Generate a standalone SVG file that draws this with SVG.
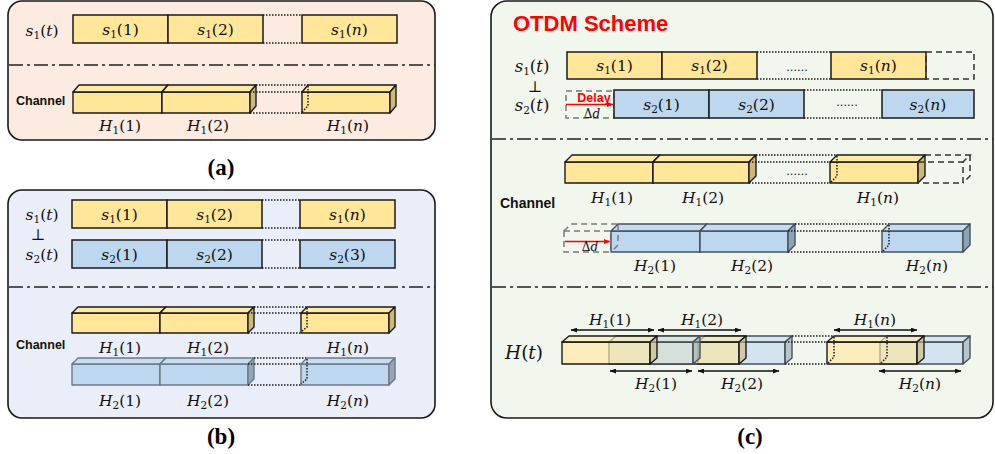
<svg xmlns="http://www.w3.org/2000/svg" width="995" height="454" viewBox="0 0 995 454">
<defs>
  <marker id="ah" viewBox="0 0 8 6" refX="7.5" refY="3" markerWidth="7" markerHeight="5" markerUnits="userSpaceOnUse" orient="auto-start-reverse">
    <path d="M0,0 L8,3 L0,6 z" fill="#111"/>
  </marker>
  <marker id="ahr" viewBox="0 0 8 6" refX="7.5" refY="3" markerWidth="7" markerHeight="5" markerUnits="userSpaceOnUse" orient="auto">
    <path d="M0,0 L8,3 L0,6 z" fill="#FF0000"/>
  </marker>
</defs>
<style>
  .panel { stroke: #1a1a1a; stroke-width: 1.6; }
  .dd { fill: none; stroke: #222; stroke-width: 1.6; stroke-dasharray: 14 4 3 4; }
  .ys { fill: #FFE699; stroke: #1a1a1a; stroke-width: 1.5; }
  .bs { fill: #BDD7EE; stroke: #1a1a1a; stroke-width: 1.5; }
  .yf { fill: #FFE699; stroke: #1a1a1a; stroke-width: 1.4; stroke-linejoin: round; }
  .yt { fill: #FFE9A3; stroke: #1a1a1a; stroke-width: 1.4; stroke-linejoin: round; }
  .ysd { fill: #CDB878; stroke: #1a1a1a; stroke-width: 1.4; stroke-linejoin: round; }
  .bf { fill: #BDD7EE; stroke: #46505c; stroke-width: 1.4; stroke-linejoin: round; }
  .bt { fill: #C6DCF0; stroke: #46505c; stroke-width: 1.4; stroke-linejoin: round; }
  .bsd { fill: #8FA3B8; stroke: #46505c; stroke-width: 1.4; stroke-linejoin: round; }
  .bgf { fill: #BDD7EE; stroke: #6d7986; stroke-width: 1.4; stroke-linejoin: round; }
  .bgt { fill: #C6DCF0; stroke: #6d7986; stroke-width: 1.4; stroke-linejoin: round; }
  .bgsd { fill: #93A5B8; stroke: #6d7986; stroke-width: 1.4; stroke-linejoin: round; }
  .dot { fill: none; stroke: #1a1a1a; stroke-width: 1.5; stroke-dasharray: 1.5 1.5; }
  .dash { fill: none; stroke: #333; stroke-width: 1.5; stroke-dasharray: 6 4; }
  .dashg { fill: none; stroke: #7a7a7a; stroke-width: 1.5; stroke-dasharray: 6 4; }
  .m { font-family: "DejaVu Serif", "Liberation Serif", serif; font-size: 15.5px; fill: #111; text-anchor: middle; }
  .m.lg { font-size: 16.5px; }
  .m.xl { font-size: 18.5px; }
  .m.sm { font-size: 12px; }
  .i { font-style: italic; }
  .sb { font-size: 10.5px; }
  .ch { font-family: "Liberation Sans", Arial, sans-serif; font-weight: bold; fill: #111; }
  .cap { font-family: "Liberation Serif", "Times New Roman", serif; font-weight: bold; font-size: 23px; fill: #000; text-anchor: middle; }
  .dots { font-family: "Liberation Sans", Arial, sans-serif; font-size: 13px; fill: #222; text-anchor: middle; }
  .arr { stroke: #111; stroke-width: 1.3; fill: none; marker-start: url(#ah); marker-end: url(#ah); }
  .red { stroke: #FF0000; stroke-width: 1.5; fill: none; marker-end: url(#ahr); }
  .ov { fill-opacity: 0.6; }
</style>

<!-- panel backgrounds -->
<rect class="panel" x="8" y="1" width="427" height="139" rx="14" fill="#FBEBE0"/>
<rect class="panel" x="8" y="190" width="427" height="228" rx="14" fill="#E9EEF8"/>
<rect class="panel" x="491" y="1" width="502" height="417" rx="16" fill="#F2F7EE"/>

<!-- section separators -->
<g id="separators">
  <line class="dd" x1="9" y1="65" x2="435" y2="65"/>
  <line class="dd" x1="9" y1="287" x2="435" y2="287"/>
  <line class="dd" x1="492" y1="139" x2="993" y2="139"/>
  <line class="dd" x1="492" y1="287" x2="993" y2="287"/>
</g>

<!-- ===== (a) single stream ===== -->
<g id="a-signal">
  <text class="m" x="42" y="36"><tspan class="i">s</tspan><tspan class="sb" dy="3">1</tspan><tspan dy="-3">(</tspan><tspan class="i">t</tspan>)</text>
  <rect class="ys" x="73" y="15" width="95" height="28"/>
  <rect class="ys" x="168" y="15" width="95" height="28"/>
  <line class="dot" x1="263" y1="15" x2="302" y2="15"/>
  <line class="dot" x1="263" y1="43" x2="302" y2="43"/>
  <rect class="ys" x="302" y="15" width="95" height="28"/>
  <text class="m" x="120.5" y="34.5"><tspan class="i">s</tspan><tspan class="sb" dy="3">1</tspan><tspan dy="-3">(1)</tspan></text>
  <text class="m" x="215.5" y="34.5"><tspan class="i">s</tspan><tspan class="sb" dy="3">1</tspan><tspan dy="-3">(2)</tspan></text>
  <text class="m" x="349.5" y="34.5"><tspan class="i">s</tspan><tspan class="sb" dy="3">1</tspan><tspan dy="-3">(</tspan><tspan class="i">n</tspan>)</text>
</g>
<g id="a-channel">
  <text class="ch" x="16" y="104.5" font-size="12.5">Channel</text>
  <rect class="yf" x="73" y="92" width="89" height="21"/>
  <polygon class="yt" points="73,92 79,85 168,85 162,92"/>
  <polygon class="ysd" points="162,92 168,85 168,106 162,113"/>
  <rect class="yf" x="162" y="92" width="88" height="21"/>
  <polygon class="yt" points="162,92 168,85 256,85 250,92"/>
  <polygon class="ysd" points="250,92 256,85 256,106 250,113"/>
  <line class="dot" x1="256" y1="85" x2="308" y2="85"/>
  <line class="dot" x1="250" y1="92" x2="302" y2="92"/>
  <line class="dot" x1="250" y1="113" x2="302" y2="113"/>
  <rect class="yf" x="302" y="92" width="88" height="21"/>
  <polygon class="yt" points="302,92 308,85 396,85 390,92"/>
  <polygon class="ysd" points="390,92 396,85 396,106 390,113"/>
  <polyline class="dot" points="308,86 308,106 302,112"/>
  <text class="m" x="120" y="130.5"><tspan class="i">H</tspan><tspan class="sb" dy="3">1</tspan><tspan dy="-3">(1)</tspan></text>
  <text class="m" x="208" y="130.5"><tspan class="i">H</tspan><tspan class="sb" dy="3">1</tspan><tspan dy="-3">(2)</tspan></text>
  <text class="m" x="348" y="130.5"><tspan class="i">H</tspan><tspan class="sb" dy="3">1</tspan><tspan dy="-3">(</tspan><tspan class="i">n</tspan>)</text>
</g>
<text class="cap" x="221" y="175">(a)</text>

<!-- ===== (b) two orthogonal streams ===== -->
<g id="b-signal">
  <text class="m" x="42" y="220"><tspan class="i">s</tspan><tspan class="sb" dy="3">1</tspan><tspan dy="-3">(</tspan><tspan class="i">t</tspan>)</text>
  <text class="m" x="38" y="240">⊥</text>
  <text class="m" x="42" y="260"><tspan class="i">s</tspan><tspan class="sb" dy="3">2</tspan><tspan dy="-3">(</tspan><tspan class="i">t</tspan>)</text>
  <rect class="ys" x="72" y="200" width="95" height="28"/>
  <rect class="ys" x="167" y="200" width="95" height="28"/>
  <line class="dot" x1="262" y1="200" x2="300" y2="200"/>
  <line class="dot" x1="262" y1="228" x2="300" y2="228"/>
  <rect class="ys" x="300" y="200" width="95" height="28"/>
  <rect class="bs" x="72" y="240" width="95" height="28"/>
  <rect class="bs" x="167" y="240" width="95" height="28"/>
  <line class="dot" x1="262" y1="240" x2="300" y2="240"/>
  <line class="dot" x1="262" y1="268" x2="300" y2="268"/>
  <rect class="bs" x="300" y="240" width="95" height="28"/>
  <text class="m" x="119.5" y="219.5"><tspan class="i">s</tspan><tspan class="sb" dy="3">1</tspan><tspan dy="-3">(1)</tspan></text>
  <text class="m" x="214.5" y="219.5"><tspan class="i">s</tspan><tspan class="sb" dy="3">1</tspan><tspan dy="-3">(2)</tspan></text>
  <text class="m" x="347.5" y="219.5"><tspan class="i">s</tspan><tspan class="sb" dy="3">1</tspan><tspan dy="-3">(</tspan><tspan class="i">n</tspan>)</text>
  <text class="m" x="119.5" y="259.5"><tspan class="i">s</tspan><tspan class="sb" dy="3">2</tspan><tspan dy="-3">(1)</tspan></text>
  <text class="m" x="214.5" y="259.5"><tspan class="i">s</tspan><tspan class="sb" dy="3">2</tspan><tspan dy="-3">(2)</tspan></text>
  <text class="m" x="347.5" y="259.5"><tspan class="i">s</tspan><tspan class="sb" dy="3">2</tspan><tspan dy="-3">(3)</tspan></text>
</g>
<g id="b-channel">
  <text class="ch" x="16" y="349" font-size="12.5">Channel</text>
  <!-- H1 row -->
  <rect class="yf" x="72" y="313" width="88" height="20"/>
  <polygon class="yt" points="72,313 78,307 166,307 160,313"/>
  <polygon class="ysd" points="160,313 166,307 166,327 160,333"/>
  <rect class="yf" x="160" y="313" width="88" height="20"/>
  <polygon class="yt" points="160,313 166,307 254,307 248,313"/>
  <polygon class="ysd" points="248,313 254,307 254,327 248,333"/>
  <line class="dot" x1="254" y1="307" x2="307" y2="307"/>
  <line class="dot" x1="248" y1="313" x2="301" y2="313"/>
  <line class="dot" x1="248" y1="333" x2="301" y2="333"/>
  <rect class="yf" x="301" y="313" width="88" height="20"/>
  <polygon class="yt" points="301,313 307,307 395,307 389,313"/>
  <polygon class="ysd" points="389,313 395,307 395,327 389,333"/>
  <polyline class="dot" points="307,308 307,327 301,332"/>
  <text class="m" x="120" y="352.5"><tspan class="i">H</tspan><tspan class="sb" dy="3">1</tspan><tspan dy="-3">(1)</tspan></text>
  <text class="m" x="208" y="352.5"><tspan class="i">H</tspan><tspan class="sb" dy="3">1</tspan><tspan dy="-3">(2)</tspan></text>
  <text class="m" x="348" y="352.5"><tspan class="i">H</tspan><tspan class="sb" dy="3">1</tspan><tspan dy="-3">(</tspan><tspan class="i">n</tspan>)</text>
  <!-- H2 row -->
  <rect class="bgf" x="72" y="364" width="88" height="21"/>
  <polygon class="bgt" points="72,364 78,358 166,358 160,364"/>
  <polygon class="bgsd" points="160,364 166,358 166,379 160,385"/>
  <rect class="bgf" x="160" y="364" width="88" height="21"/>
  <polygon class="bgt" points="160,364 166,358 254,358 248,364"/>
  <polygon class="bgsd" points="248,364 254,358 254,379 248,385"/>
  <line class="dot" x1="254" y1="358" x2="307" y2="358"/>
  <line class="dot" x1="248" y1="364" x2="301" y2="364"/>
  <line class="dot" x1="248" y1="385" x2="301" y2="385"/>
  <rect class="bgf" x="301" y="364" width="88" height="21"/>
  <polygon class="bgt" points="301,364 307,358 395,358 389,364"/>
  <polygon class="bgsd" points="389,364 395,358 395,379 389,385"/>
  <polyline class="dot" points="307,359 307,379 301,384"/>
  <text class="m" x="120" y="405.5"><tspan class="i">H</tspan><tspan class="sb" dy="3">2</tspan><tspan dy="-3">(1)</tspan></text>
  <text class="m" x="208" y="405.5"><tspan class="i">H</tspan><tspan class="sb" dy="3">2</tspan><tspan dy="-3">(2)</tspan></text>
  <text class="m" x="348" y="405.5"><tspan class="i">H</tspan><tspan class="sb" dy="3">2</tspan><tspan dy="-3">(</tspan><tspan class="i">n</tspan>)</text>
</g>
<text class="cap" x="221" y="444">(b)</text>

<!-- ===== (c) OTDM scheme ===== -->
<text x="513" y="31" font-family="Liberation Sans, Arial, sans-serif" font-weight="bold" font-size="22" fill="#FF0000">OTDM Scheme</text>

<g id="c-signal">
  <text class="m lg" x="532" y="72"><tspan class="i">s</tspan><tspan class="sb" dy="3">1</tspan><tspan dy="-3">(</tspan><tspan class="i">t</tspan>)</text>
  <text class="m" x="535" y="92">⊥</text>
  <text class="m lg" x="532" y="111"><tspan class="i">s</tspan><tspan class="sb" dy="3">2</tspan><tspan dy="-3">(</tspan><tspan class="i">t</tspan>)</text>
  <!-- s1 row -->
  <rect class="ys" x="567" y="52" width="95" height="27"/>
  <rect class="ys" x="662" y="52" width="95" height="27"/>
  <line class="dot" x1="757" y1="52" x2="831" y2="52"/>
  <line class="dot" x1="757" y1="79" x2="831" y2="79"/>
  <text class="dots" x="797" y="71">......</text>
  <rect class="ys" x="831" y="52" width="95" height="27"/>
  <rect class="dash" x="926" y="52" width="48" height="27"/>
  <text class="m" x="614.5" y="70.5"><tspan class="i">s</tspan><tspan class="sb" dy="3">1</tspan><tspan dy="-3">(1)</tspan></text>
  <text class="m" x="709.5" y="70.5"><tspan class="i">s</tspan><tspan class="sb" dy="3">1</tspan><tspan dy="-3">(2)</tspan></text>
  <text class="m" x="878.5" y="70.5"><tspan class="i">s</tspan><tspan class="sb" dy="3">1</tspan><tspan dy="-3">(</tspan><tspan class="i">n</tspan>)</text>
  <!-- s2 row, delayed by Δd -->
  <rect class="dashg" x="566" y="91" width="48" height="27"/>
  <text x="594" y="101.5" font-family="Liberation Sans, Arial, sans-serif" font-weight="bold" font-size="12.5" fill="#FF0000" text-anchor="middle">Delay</text>
  <line class="red" x1="566" y1="104.5" x2="613" y2="104.5"/>
  <text class="m sm" x="592" y="117.5">Δ<tspan class="i">d</tspan></text>
  <rect class="bs" x="614" y="90" width="95" height="28"/>
  <rect class="bs" x="709" y="90" width="95" height="28"/>
  <line class="dot" x1="804" y1="90" x2="882" y2="90"/>
  <line class="dot" x1="804" y1="118" x2="882" y2="118"/>
  <text class="dots" x="847" y="106">......</text>
  <rect class="bs" x="882" y="90" width="92" height="28"/>
  <text class="m" x="661.5" y="109.5"><tspan class="i">s</tspan><tspan class="sb" dy="3">2</tspan><tspan dy="-3">(1)</tspan></text>
  <text class="m" x="756.5" y="109.5"><tspan class="i">s</tspan><tspan class="sb" dy="3">2</tspan><tspan dy="-3">(2)</tspan></text>
  <text class="m" x="928" y="109.5"><tspan class="i">s</tspan><tspan class="sb" dy="3">2</tspan><tspan dy="-3">(</tspan><tspan class="i">n</tspan>)</text>
</g>

<g id="c-channel">
  <text class="ch" x="500" y="208" font-size="14">Channel</text>
  <!-- H1 row -->
  <rect class="yf" x="565" y="162" width="88" height="21"/>
  <polygon class="yt" points="565,162 572,155 660,155 653,162"/>
  <polygon class="ysd" points="653,162 660,155 660,176 653,183"/>
  <rect class="yf" x="653" y="162" width="96" height="21"/>
  <polygon class="yt" points="653,162 660,155 756,155 749,162"/>
  <polygon class="ysd" points="749,162 756,155 756,176 749,183"/>
  <line class="dot" x1="756" y1="155" x2="837" y2="155"/>
  <line class="dot" x1="749" y1="162" x2="830" y2="162"/>
  <line class="dot" x1="749" y1="183" x2="830" y2="183"/>
  <text class="dots" x="797" y="175">......</text>
  <rect class="yf" x="830" y="162" width="88" height="21"/>
  <polygon class="yt" points="830,162 837,155 925,155 918,162"/>
  <polygon class="ysd" points="918,162 925,155 925,176 918,183"/>
  <polyline class="dot" points="837,156 837,176 831,182"/>
  <rect class="dash" x="918" y="162" width="45" height="21"/>
  <polyline class="dash" points="925,155 970,155 963,162"/>
  <polyline class="dash" points="970,155 970,176 963,183"/>
  <text class="m" x="612" y="202.5"><tspan class="i">H</tspan><tspan class="sb" dy="3">1</tspan><tspan dy="-3">(1)</tspan></text>
  <text class="m" x="703" y="202.5"><tspan class="i">H</tspan><tspan class="sb" dy="3">1</tspan><tspan dy="-3">(2)</tspan></text>
  <text class="m" x="878" y="202.5"><tspan class="i">H</tspan><tspan class="sb" dy="3">1</tspan><tspan dy="-3">(</tspan><tspan class="i">n</tspan>)</text>
  <!-- H2 row, delayed by Δd -->
  <rect class="dashg" x="564" y="231" width="47" height="21"/>
  <polyline class="dashg" points="564,231 571,224 618,224"/>
  <rect class="bf" x="611" y="231" width="89" height="21"/>
  <polygon class="bt" points="611,231 618,224 707,224 700,231"/>
  <polygon class="bsd" points="700,231 707,224 707,245 700,252"/>
  <polyline class="dashg" points="618,225 618,245 612,251"/>
  <rect class="bf" x="700" y="231" width="88" height="21"/>
  <polygon class="bt" points="700,231 707,224 795,224 788,231"/>
  <polygon class="bsd" points="788,231 795,224 795,245 788,252"/>
  <line class="dot" x1="795" y1="224" x2="889" y2="224"/>
  <line class="dot" x1="788" y1="231" x2="882" y2="231"/>
  <line class="dot" x1="788" y1="252" x2="882" y2="252"/>
  <rect class="bf" x="882" y="231" width="81" height="21"/>
  <polygon class="bt" points="882,231 889,224 970,224 963,231"/>
  <polygon class="bsd" points="963,231 970,224 970,245 963,252"/>
  <polyline class="dot" points="889,225 889,245 883,251"/>
  <line class="red" x1="565" y1="241.5" x2="610" y2="241.5"/>
  <text class="m sm" x="590" y="251">Δ<tspan class="i">d</tspan></text>
  <text class="m" x="655" y="270.5"><tspan class="i">H</tspan><tspan class="sb" dy="3">2</tspan><tspan dy="-3">(1)</tspan></text>
  <text class="m" x="752" y="270.5"><tspan class="i">H</tspan><tspan class="sb" dy="3">2</tspan><tspan dy="-3">(2)</tspan></text>
  <text class="m" x="927" y="270.5"><tspan class="i">H</tspan><tspan class="sb" dy="3">2</tspan><tspan dy="-3">(</tspan><tspan class="i">n</tspan>)</text>
</g>

<g id="c-combined">
  <text class="m xl" x="524" y="359"><tspan class="i">H</tspan>(<tspan class="i">t</tspan>)</text>
  <!-- blocks drawn back to front with translucent faces -->
  <g id="h2-2">
    <rect class="bf ov" x="698" y="342" width="87" height="22"/>
    <polygon class="bt ov" points="698,342 705,336 792,336 785,342"/>
    <polygon class="bsd ov" points="785,342 792,336 792,358 785,364"/>
  </g>
  <g id="h1-2">
    <rect class="yf ov" x="650" y="342" width="89" height="22"/>
    <polygon class="yt ov" points="650,342 657,336 746,336 739,342"/>
    <polygon class="ysd ov" points="739,342 746,336 746,358 739,364"/>
  </g>
  <g id="h2-1">
    <rect class="bf ov" x="609" y="342" width="84" height="22"/>
    <polygon class="bt ov" points="609,342 616,336 700,336 693,342"/>
    <polygon class="bsd ov" points="693,342 700,336 700,358 693,364"/>
  </g>
  <g id="h1-1">
    <rect class="yf ov" x="562" y="342" width="88" height="22"/>
    <polygon class="yt ov" points="562,342 569,336 657,336 650,342"/>
    <polygon class="ysd ov" points="650,342 657,336 657,358 650,364"/>
  </g>
  <line class="dot" x1="792" y1="336" x2="834" y2="336"/>
  <line class="dot" x1="785" y1="342" x2="827" y2="342"/>
  <line class="dot" x1="785" y1="364" x2="827" y2="364"/>
  <g id="h2-n">
    <rect class="bf ov" x="880" y="342" width="83" height="22"/>
    <polygon class="bt ov" points="880,342 887,336 970,336 963,342"/>
    <polygon class="bsd ov" points="963,342 970,336 970,358 963,364"/>
  </g>
  <g id="h1-n">
    <rect class="yf ov" x="827" y="342" width="90" height="22"/>
    <polygon class="yt ov" points="827,342 834,336 924,336 917,342"/>
    <polygon class="ysd ov" points="917,342 924,336 924,358 917,364"/>
  </g>
  <polyline class="dot" points="834,337 834,357 828,363"/>
  <polyline class="dot" points="887,337 887,357 881,363"/>
  <line class="arr" x1="571" y1="330" x2="654" y2="330"/>
  <line class="arr" x1="658" y1="330" x2="741" y2="330"/>
  <line class="arr" x1="834" y1="330" x2="917" y2="330"/>
  <line class="arr" x1="610" y1="371" x2="692" y2="371"/>
  <line class="arr" x1="698" y1="371" x2="779" y2="371"/>
  <line class="arr" x1="879" y1="371" x2="961" y2="371"/>
  <text class="m" x="610" y="325"><tspan class="i">H</tspan><tspan class="sb" dy="3">1</tspan><tspan dy="-3">(1)</tspan></text>
  <text class="m" x="702" y="325"><tspan class="i">H</tspan><tspan class="sb" dy="3">1</tspan><tspan dy="-3">(2)</tspan></text>
  <text class="m" x="875" y="325"><tspan class="i">H</tspan><tspan class="sb" dy="3">1</tspan><tspan dy="-3">(</tspan><tspan class="i">n</tspan>)</text>
  <text class="m" x="656" y="388.5"><tspan class="i">H</tspan><tspan class="sb" dy="3">2</tspan><tspan dy="-3">(1)</tspan></text>
  <text class="m" x="742" y="388.5"><tspan class="i">H</tspan><tspan class="sb" dy="3">2</tspan><tspan dy="-3">(2)</tspan></text>
  <text class="m" x="920" y="388.5"><tspan class="i">H</tspan><tspan class="sb" dy="3">2</tspan><tspan dy="-3">(</tspan><tspan class="i">n</tspan>)</text>
</g>
<text class="cap" x="750" y="444">(c)</text>
</svg>
